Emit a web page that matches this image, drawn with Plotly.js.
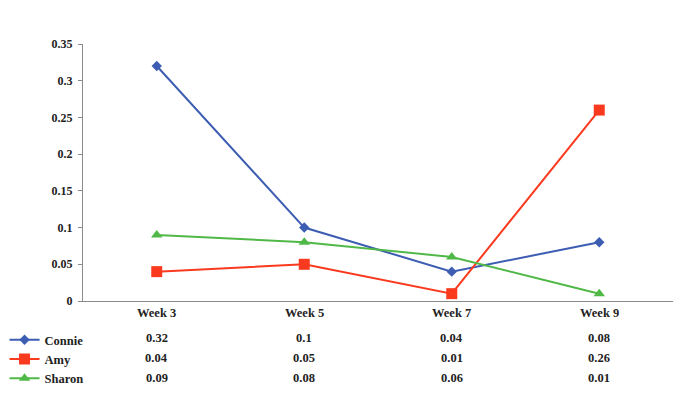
<!DOCTYPE html>
<html>
<head>
<meta charset="utf-8">
<script src="https://cdn.plot.ly/plotly-3.0.1.min.js"></script>
<style>
  html, body { margin: 0; padding: 0; background: #fff; }
  #chart { width: 682px; height: 404px; }
</style>
</head>
<body>
<div id="chart"></div>
<script>
// Weekly values for three people, shown as lines plus a data table underneath
const weeks = ["Week 3", "Week 5", "Week 7", "Week 9"];
const names = ["Connie", "Amy", "Sharon"];
const connie = [0.32, 0.1, 0.04, 0.08];
const amy = [0.04, 0.05, 0.01, 0.26];
const sharon = [0.09, 0.08, 0.06, 0.01];
const yTicks = [0, 0.05, 0.1, 0.15, 0.2, 0.25, 0.3, 0.35];
const yTickText = ["0", "0.05", "0.1", "0.15", "0.2", "0.25", "0.3", "0.35"];

const series = [connie, amy, sharon];
const colors = ["#3d5db3", "#fa3a1e", "#4fb847"];
const symbols = ["diamond", "square", "triangle-up"];
const sizes = [8, 11, 10];

const font = { family: "'Liberation Serif', 'Times New Roman', serif", size: 12, color: "#222" };
const tableFont = { family: font.family, size: 12.5, color: "#222" };

const traces = series.map((vals, i) => ({
  type: "scatter",
  mode: "lines+markers",
  name: "<b>" + names[i] + "</b>",
  x: weeks,
  y: vals,
  line: { color: colors[i], width: 2 },
  marker: { color: colors[i], symbol: symbols[i], size: sizes[i] }
}));

// Data table: week headers and one row of values per series
const annotations = [];
const headerY = -0.045, rowY0 = -0.145, rowStep = 0.078;
weeks.forEach((w, j) => {
  annotations.push({
    xref: "x", yref: "paper", x: w, y: headerY, yanchor: "middle",
    text: "<b>" + w + "</b>", showarrow: false, font: tableFont
  });
  series.forEach((vals, i) => {
    annotations.push({
      xref: "x", yref: "paper", x: w, y: rowY0 - i * rowStep, yanchor: "middle",
      text: "<b>" + vals[j] + "</b>", showarrow: false, font: tableFont
    });
  });
});

const layout = {
  width: 682,
  height: 404,
  margin: { l: 83, r: 9, t: 44, b: 103, autoexpand: false },
  paper_bgcolor: "#fff",
  plot_bgcolor: "#fff",
  font: font,
  showlegend: true,
  legend: {
    x: -0.133, xanchor: "left",
    y: -0.094, yanchor: "top",
    orientation: "v",
    font: tableFont,
    bgcolor: "rgba(0,0,0,0)",
    itemwidth: 30,
    tracegroupgap: 0
  },
  xaxis: {
    type: "category",
    range: [-0.5, 3.5],
    showticklabels: false,
    showline: true,
    linecolor: "#8a8a8a",
    linewidth: 1,
    ticks: "",
    showgrid: false,
    zeroline: false,
    fixedrange: true
  },
  yaxis: {
    range: [0, 0.35],
    tickvals: yTicks,
    ticktext: yTickText.map(t => "<b>" + t + "</b>"),
    showline: true,
    linecolor: "#8a8a8a",
    linewidth: 1,
    ticks: "outside",
    ticklen: 4,
    tickcolor: "#8a8a8a",
    ticklabelstandoff: 3,
    showgrid: false,
    zeroline: false,
    tickfont: font,
    fixedrange: true
  },
  annotations: annotations
};

Plotly.newPlot("chart", traces, layout, { displayModeBar: false, staticPlot: true });
</script>
</body>
</html>
